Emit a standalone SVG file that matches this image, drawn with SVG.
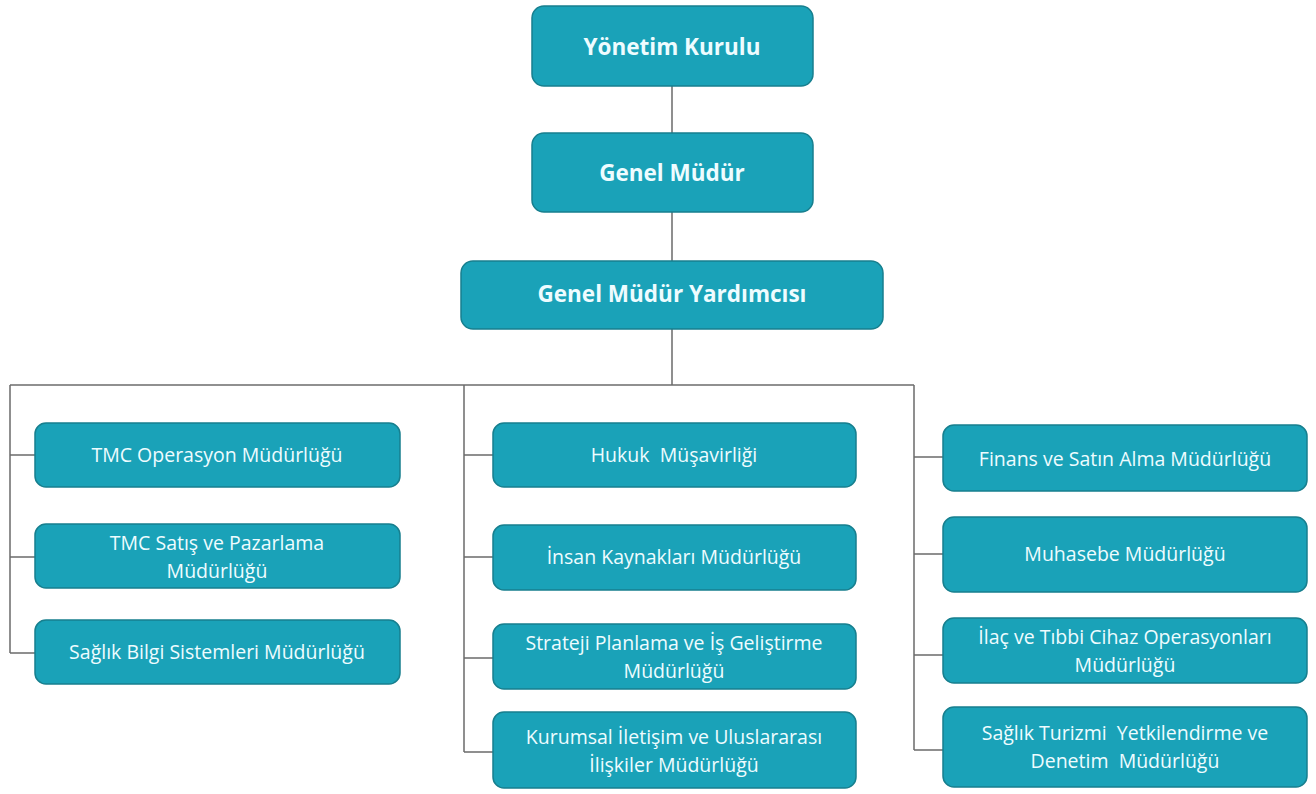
<svg xmlns="http://www.w3.org/2000/svg" width="1316" height="794" viewBox="0 0 1316 794">
<style>
.box{fill:#1aa2b8;stroke:#177f8e;stroke-width:1.5}
.t{font-family:"Open Sans","Liberation Sans",sans-serif;font-size:19.5px;fill:#eefcff;text-anchor:middle}
.h{font-family:"Open Sans","Liberation Sans",sans-serif;font-size:22.5px;font-weight:bold;fill:#eefcff;text-anchor:middle}
.ln{stroke:#6b6b6b;stroke-width:1.5;fill:none}
</style>
<rect width="1316" height="794" fill="#ffffff"/>
<g id="connectors">
<path class="ln" d="M672 86V133M672 212V261M672 329V385"/>
<path class="ln" d="M10 385H914"/>
<path class="ln" d="M10 385V653M10 455H35M10 557H35M10 653H35"/>
<path class="ln" d="M464 385V752M464 455H493M464 557H493M464 658H493M464 752H493"/>
<path class="ln" d="M914 385V750M914 457H943M914 554H943M914 655H943M914 750H943"/>
</g>
<g id="yonetim"><rect class="box" x="532" y="6" width="281" height="80" rx="12"/><text class="h" x="672" y="55">Yönetim Kurulu</text></g>
<g id="genel"><rect class="box" x="532" y="133" width="281" height="79" rx="12"/><text class="h" x="672" y="181">Genel Müdür</text></g>
<g id="gmy"><rect class="box" x="461" y="261" width="422" height="68" rx="12"/><text class="h" x="672" y="302">Genel Müdür Yardımcısı</text></g>

<g id="tmc-op"><rect class="box" x="35" y="423" width="365" height="64" rx="11"/><text class="t" x="217" y="462">TMC Operasyon Müdürlüğü</text></g>
<g id="tmc-satis"><rect class="box" x="35" y="524" width="365" height="64" rx="11"/><text class="t" x="217" y="550">TMC Satış ve Pazarlama</text><text class="t" x="217" y="578">Müdürlüğü</text></g>
<g id="sbs"><rect class="box" x="35" y="620" width="365" height="64" rx="11"/><text class="t" x="217" y="659">Sağlık Bilgi Sistemleri Müdürlüğü</text></g>

<g id="hukuk"><rect class="box" x="493" y="423" width="363" height="64" rx="11"/><text class="t" x="674" y="462" xml:space="preserve">Hukuk  Müşavirliği</text></g>
<g id="ik"><rect class="box" x="493" y="525" width="363" height="65" rx="11"/><text class="t" x="674" y="564">İnsan Kaynakları Müdürlüğü</text></g>
<g id="strateji"><rect class="box" x="493" y="624" width="363" height="65" rx="11"/><text class="t" x="674" y="650">Strateji Planlama ve İş Geliştirme</text><text class="t" x="674" y="678">Müdürlüğü</text></g>
<g id="kurumsal"><rect class="box" x="493" y="712" width="363" height="76" rx="11"/><text class="t" x="674" y="744">Kurumsal İletişim ve Uluslararası</text><text class="t" x="674" y="772">İlişkiler Müdürlüğü</text></g>

<g id="finans"><rect class="box" x="943" y="425" width="364" height="66" rx="11"/><text class="t" x="1125" y="466">Finans ve Satın Alma Müdürlüğü</text></g>
<g id="muhasebe"><rect class="box" x="943" y="517" width="364" height="75" rx="11"/><text class="t" x="1125" y="561">Muhasebe Müdürlüğü</text></g>
<g id="ilac"><rect class="box" x="943" y="618" width="364" height="65" rx="11"/><text class="t" x="1125" y="644">İlaç ve Tıbbi Cihaz Operasyonları</text><text class="t" x="1125" y="672">Müdürlüğü</text></g>
<g id="turizm"><rect class="box" x="943" y="707" width="364" height="80" rx="11"/><text class="t" x="1125" y="740" xml:space="preserve">Sağlık Turizmi  Yetkilendirme ve</text><text class="t" x="1125" y="768" xml:space="preserve">Denetim  Müdürlüğü</text></g>
</svg>
